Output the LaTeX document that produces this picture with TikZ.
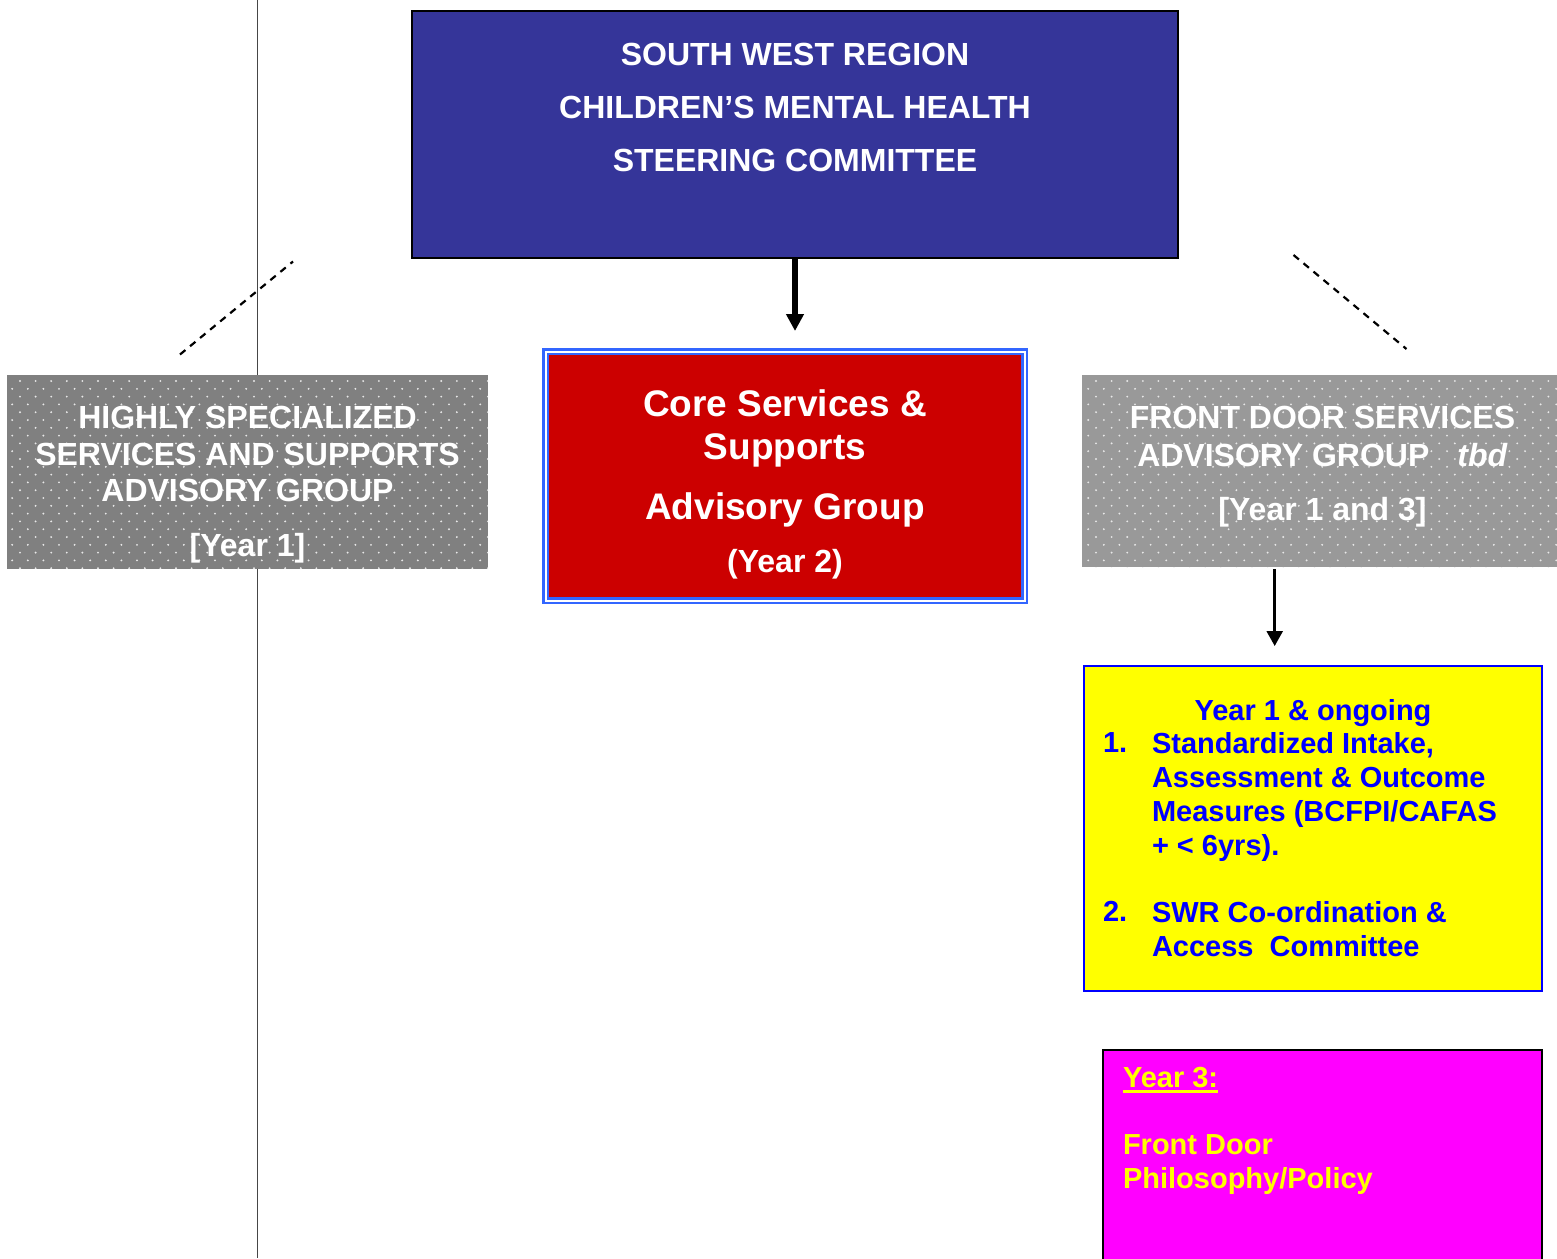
\documentclass[tikz,border=0pt]{standalone}
\usepackage{fontspec}
\setmainfont{Liberation Sans}
\usetikzlibrary{arrows.meta}

\definecolor{steerblue}{RGB}{53,53,153}
\definecolor{corered}{RGB}{204,0,0}
\definecolor{coreframe}{RGB}{51,102,255}
\definecolor{hssgray}{RGB}{128,128,128}
\definecolor{fdgray}{RGB}{153,153,153}
\definecolor{dotwhite}{RGB}{232,232,232}
\definecolor{listblue}{RGB}{0,0,255}
\definecolor{notemagenta}{RGB}{255,0,255}
\definecolor{noteyellow}{RGB}{255,255,0}
\definecolor{railgray}{RGB}{70,70,70}

% type sizes (1pt = 1 unit of the drawing)
\newcommand\fsTitle{\fontsize{32}{53}\selectfont\bfseries}
\newcommand\fsCore{\fontsize{37}{43}\selectfont\bfseries}
\newcommand\fsCoreSmall{\fontsize{32}{38}\selectfont\bfseries}
\newcommand\fsGray{\fontsize{32}{36.5}\selectfont\bfseries}
\newcommand\fsFront{\fontsize{32}{38}\selectfont\bfseries}
\newcommand\fsList{\fontsize{29}{34}\selectfont\bfseries}

\tikzset{
  box/.style={rectangle, inner sep=0pt, outer sep=0pt},
  steerbox/.style={box, fill=steerblue, draw=black, line width=2pt},
  corebox/.style={box, fill=corered, draw=coreframe, line width=2.5pt,
                  double=white, double distance=2pt},
  hssbox/.style={box, fill=hssgray},
  fdbox/.style={box, fill=fdgray},
  listbox/.style={box, fill=noteyellow, draw=listblue, line width=2pt},
  notebox/.style={box, fill=notemagenta, draw=black, line width=2pt},
  txt/.style={inner sep=0pt, outer sep=0pt},
  dotfill/.style={fill=dotwhite},
  bigarrow/.style={line width=5.5pt, -{Triangle[width=17pt,length=17pt]}},
  smallarrow/.style={line width=2.5pt, -{Triangle[width=16pt,length=15pt]}},
  linkdash/.style={line width=2.2pt, dash pattern=on 7pt off 6pt},
  rail/.style={line width=1.2pt, draw=railgray}
}

\begin{document}
\begin{tikzpicture}[x=1pt, y=-1pt]
\useasboundingbox (0,0) rectangle (1557,1258);
\clip (0,0) rectangle (1557,1258);

% vertical rule down the left side
\coordinate (railtop) at (257.5,0);
\coordinate (railbot) at (257.5,1258);
\draw[rail] (railtop) -- (railbot);

% dashed links towards the steering committee
\coordinate (hsslinkA) at (180,354.5);
\coordinate (hsslinkB) at (293,261.5);
\coordinate (fdlinkA) at (1293.5,255);
\coordinate (fdlinkB) at (1406.5,349);
\draw[linkdash] (hsslinkA) -- (hsslinkB);
\draw[linkdash] (fdlinkA) -- (fdlinkB);

% steering committee
\node[steerbox, minimum width=766pt, minimum height=247pt] (swr) at (795,134.5) {};
\node[txt, white, anchor=north, align=center, font=\fsTitle] (swrtext) at (795,43.5)
  {SOUTH WEST REGION\\CHILDREN’S MENTAL HEALTH\\STEERING COMMITTEE};

% core services advisory group
\node[corebox, minimum width=479pt, minimum height=249pt] (core) at (785,476) {};
\node[txt, white, anchor=north, align=center, font=\fsCore] (coret1) at (785,389.7)
  {Core Services \&\\Supports};
\node[txt, white, anchor=north, font=\fsCore] (coret2) at (785,492.7) {Advisory Group};
\node[txt, white, anchor=north, font=\fsCoreSmall] (coret3) at (785,549.5) {(Year 2)};

% highly specialized services advisory group (dotted grey)
\node[hssbox, minimum width=481pt, minimum height=194pt] (hss) at (247.5,472) {};
\begin{scope}
  \clip (hss.south west) rectangle (hss.north east);
  \foreach \r in {-1,...,25}{
    \pgfmathsetmacro{\off}{mod(\r+2,2)*7.8}
    \foreach \c in {-1,...,31}
      \fill[dotfill] ({20+\off+\c*15.6},{381+\r*7.8}) circle (1.05pt);
  }
\end{scope}
\node[txt, white, anchor=north, align=center, font=\fsGray] (hsst1) at (247.5,406.5)
  {HIGHLY SPECIALIZED\\SERVICES AND SUPPORTS\\ADVISORY GROUP};
\node[txt, white, anchor=north, font=\fsGray] (hsst2) at (247.5,533.5) {[Year 1]};

% front door services advisory group (dotted grey)
\node[fdbox, minimum width=475pt, minimum height=192pt] (fd) at (1319.5,471) {};
\begin{scope}
  \clip (fd.south west) rectangle (fd.north east);
  \foreach \r in {-1,...,25}{
    \pgfmathsetmacro{\off}{mod(\r+2,2)*7.8}
    \foreach \c in {-1,...,31}
      \fill[dotfill] ({1096+\off+\c*15.6},{381+\r*7.8}) circle (1.05pt);
  }
\end{scope}
\node[txt, white, anchor=north, align=center, font=\fsFront] (fdt1) at (1322.5,406.5)
  {FRONT DOOR SERVICES\\ADVISORY GROUP\hspace{28pt}\textit{tbd}};
\node[txt, white, anchor=north, font=\fsFront] (fdt2) at (1322.5,497.5) {[Year 1 and 3]};

% year 1 task list
\node[listbox, minimum width=458pt, minimum height=325pt] (list) at (1313,828.5) {};
\node[txt, listblue, anchor=north, font=\fsList] (listhead) at (1313,699.6) {Year 1 \& ongoing};
\node[txt, listblue, anchor=north west, font=\fsList] (num1) at (1103,732.6) {1.};
\node[txt, listblue, anchor=north west, align=left, font=\fsList] (item1) at (1152,732.6)
  {Standardized Intake,\\Assessment \& Outcome\\Measures (BCFPI/CAFAS\\+ < 6yrs).};
\node[txt, listblue, anchor=north west, font=\fsList] (num2) at (1103,901.6) {2.};
\node[txt, listblue, anchor=north west, align=left, font=\fsList] (item2) at (1152,901.6)
  {SWR Co-ordination \&\\Access\ \ Committee};

% year 3 note
\node[notebox, minimum width=439pt, minimum height=222pt] (note) at (1322.5,1161) {};
\node[txt, noteyellow, anchor=north west, font=\fsList] (y3) at (1123,1067.6) {Year 3:};
\draw[noteyellow, line width=2.5pt] ([yshift=-3.5pt]y3.base west) -- ([yshift=-3.5pt]y3.base east);
\node[txt, noteyellow, anchor=north west, align=left, font=\fsList] (fdp) at (1123,1134.6)
  {Front Door\\Philosophy/Policy};

% connectors
\draw[bigarrow, shorten >=20.5pt] (swr.south) -- (swr.south |- core.north);
\coordinate (fdx) at (1274.7,0);
\draw[smallarrow, shorten <=2pt, shorten >=20pt] (fd.south -| fdx) -- (list.north -| fdx);
\end{tikzpicture}
\end{document}
